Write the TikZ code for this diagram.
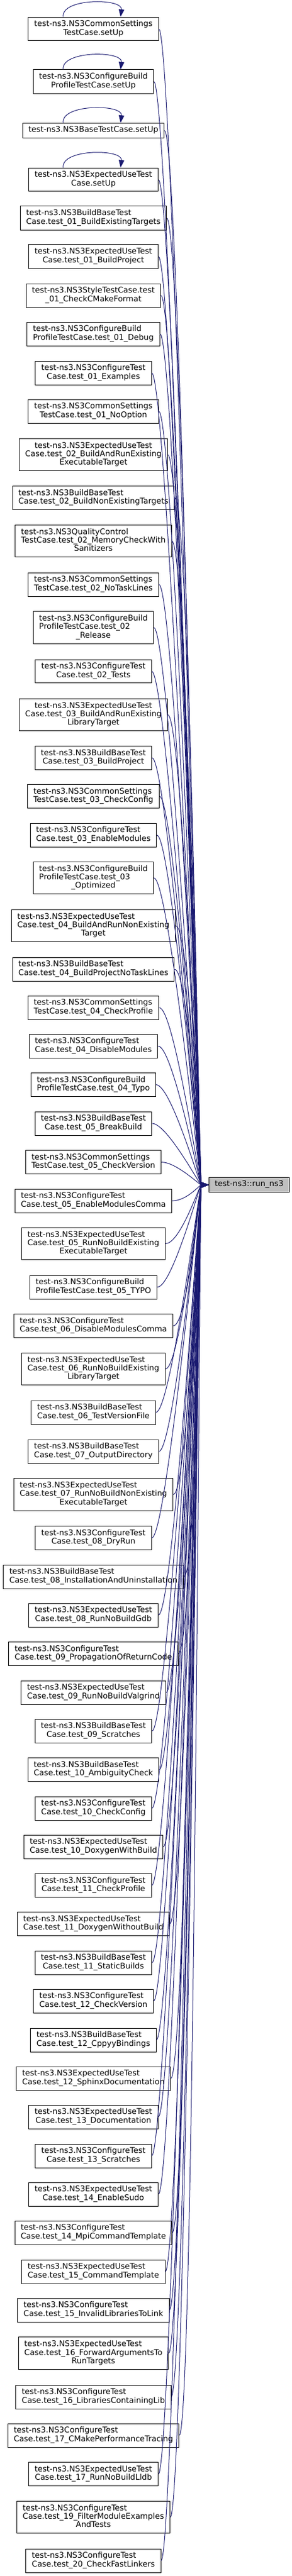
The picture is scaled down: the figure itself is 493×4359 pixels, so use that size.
\documentclass[tikz,border=0pt]{standalone}
\usepackage{fontspec}
\setmainfont{DejaVu Sans}
\usetikzlibrary{arrows.meta}
\definecolor{midnightblue}{RGB}{25,25,112}
\newcommand{\oneline}[1]{\begin{tabular}{@{}c@{}}#1\end{tabular}}
\newcommand{\twoline}[2]{\begin{tabular}{@{}l@{}}#1\\\multicolumn{1}{@{}c@{}}{#2}\end{tabular}}
\newcommand{\threeline}[3]{\begin{tabular}{@{}l@{}}#1\\#2\\\multicolumn{1}{@{}c@{}}{#3}\end{tabular}}
\newcommand{\threecentre}[3]{\begin{tabular}{@{}c@{}}#1\\#2\\#3\end{tabular}}

\begin{document}
\begin{tikzpicture}[x=0.75pt, y=-0.75pt,
caller/.style={draw=black, fill=white, line width=0.75pt, inner xsep=7.5pt, inner ysep=4.2pt, font=\fontsize{10}{10.7}\selectfont},
target/.style={caller, fill=black!25},
call/.style={draw=midnightblue, line width=0.75pt, -{Triangle[length=9.5pt, width=7pt]}}]
\useasboundingbox (0,0) rectangle (493,4359);
% the callers, one column
\node[caller] (c1) at (158,49) {\twoline{test-ns3.NS3CommonSettings}{TestCase.setUp}};
\node[caller] (c2) at (158,138) {\twoline{test-ns3.NS3ConfigureBuild}{ProfileTestCase.setUp}};
\node[caller] (c3) at (158,221) {\oneline{test-ns3.NS3BaseTestCase.setUp}};
\node[caller] (c4) at (158,304) {\twoline{test-ns3.NS3ExpectedUseTest}{Case.setUp}};
\node[caller] (c5) at (158,369) {\twoline{test-ns3.NS3BuildBaseTest}{Case.test\_01\_BuildExistingTargets}};
\node[caller] (c6) at (158,434) {\twoline{test-ns3.NS3ExpectedUseTest}{Case.test\_01\_BuildProject}};
\node[caller] (c7) at (158,500) {\twoline{test-ns3.NS3StyleTestCase.test}{\_01\_CheckCMakeFormat}};
\node[caller] (c8) at (158,565) {\twoline{test-ns3.NS3ConfigureBuild}{ProfileTestCase.test\_01\_Debug}};
\node[caller] (c9) at (158,631) {\twoline{test-ns3.NS3ConfigureTest}{Case.test\_01\_Examples}};
\node[caller] (c10) at (158,696) {\twoline{test-ns3.NS3CommonSettings}{TestCase.test\_01\_NoOption}};
\node[caller] (c11) at (158,769.5) {\threecentre{test-ns3.NS3ExpectedUseTest}{Case.test\_02\_BuildAndRunExisting}{ExecutableTarget}};
\node[caller] (c12) at (158,842.5) {\twoline{test-ns3.NS3BuildBaseTest}{Case.test\_02\_BuildNonExistingTargets}};
\node[caller] (c13) at (158,915.5) {\threeline{test-ns3.NS3QualityControl}{TestCase.test\_02\_MemoryCheckWith}{Sanitizers}};
\node[caller] (c14) at (158,989) {\twoline{test-ns3.NS3CommonSettings}{TestCase.test\_02\_NoTaskLines}};
\node[caller] (c15) at (158,1062) {\threeline{test-ns3.NS3ConfigureBuild}{ProfileTestCase.test\_02}{\_Release}};
\node[caller] (c16) at (158,1136) {\twoline{test-ns3.NS3ConfigureTest}{Case.test\_02\_Tests}};
\node[caller] (c17) at (158,1209.5) {\threecentre{test-ns3.NS3ExpectedUseTest}{Case.test\_03\_BuildAndRunExisting}{LibraryTarget}};
\node[caller] (c18) at (158,1282.5) {\twoline{test-ns3.NS3BuildBaseTest}{Case.test\_03\_BuildProject}};
\node[caller] (c19) at (158,1347.5) {\twoline{test-ns3.NS3CommonSettings}{TestCase.test\_03\_CheckConfig}};
\node[caller] (c20) at (158,1413) {\twoline{test-ns3.NS3ConfigureTest}{Case.test\_03\_EnableModules}};
\node[caller] (c21) at (158,1485.5) {\threeline{test-ns3.NS3ConfigureBuild}{ProfileTestCase.test\_03}{\_Optimized}};
\node[caller] (c22) at (158,1566.5) {\threeline{test-ns3.NS3ExpectedUseTest}{Case.test\_04\_BuildAndRunNonExisting}{Target}};
\node[caller] (c23) at (158,1640) {\twoline{test-ns3.NS3BuildBaseTest}{Case.test\_04\_BuildProjectNoTaskLines}};
\node[caller] (c24) at (158,1705) {\twoline{test-ns3.NS3CommonSettings}{TestCase.test\_04\_CheckProfile}};
\node[caller] (c25) at (158,1770) {\twoline{test-ns3.NS3ConfigureTest}{Case.test\_04\_DisableModules}};
\node[caller] (c26) at (158,1835.5) {\twoline{test-ns3.NS3ConfigureBuild}{ProfileTestCase.test\_04\_Typo}};
\node[caller] (c27) at (158,1901) {\twoline{test-ns3.NS3BuildBaseTest}{Case.test\_05\_BreakBuild}};
\node[caller] (c28) at (158,1966.5) {\twoline{test-ns3.NS3CommonSettings}{TestCase.test\_05\_CheckVersion}};
\node[caller] (c29) at (158,2032) {\twoline{test-ns3.NS3ConfigureTest}{Case.test\_05\_EnableModulesComma}};
\node[caller] (c30) at (158,2104.5) {\threeline{test-ns3.NS3ExpectedUseTest}{Case.test\_05\_RunNoBuildExisting}{ExecutableTarget}};
\node[caller] (c31) at (158,2178) {\twoline{test-ns3.NS3ConfigureBuild}{ProfileTestCase.test\_05\_TYPO}};
\node[caller] (c32) at (158,2243.5) {\twoline{test-ns3.NS3ConfigureTest}{Case.test\_06\_DisableModulesComma}};
\node[caller] (c33) at (158,2316.5) {\threeline{test-ns3.NS3ExpectedUseTest}{Case.test\_06\_RunNoBuildExisting}{LibraryTarget}};
\node[caller] (c34) at (158,2390) {\twoline{test-ns3.NS3BuildBaseTest}{Case.test\_06\_TestVersionFile}};
\node[caller] (c35) at (158,2456) {\twoline{test-ns3.NS3BuildBaseTest}{Case.test\_07\_OutputDirectory}};
\node[caller] (c36) at (158,2529) {\threeline{test-ns3.NS3ExpectedUseTest}{Case.test\_07\_RunNoBuildNonExisting}{ExecutableTarget}};
\node[caller] (c37) at (158,2602.5) {\twoline{test-ns3.NS3ConfigureTest}{Case.test\_08\_DryRun}};
\node[caller] (c38) at (158,2668) {\twoline{test-ns3.NS3BuildBaseTest}{Case.test\_08\_InstallationAndUninstallation}};
\node[caller] (c39) at (158,2733) {\twoline{test-ns3.NS3ExpectedUseTest}{Case.test\_08\_RunNoBuildGdb}};
\node[caller] (c40) at (158,2798.5) {\twoline{test-ns3.NS3ConfigureTest}{Case.test\_09\_PropagationOfReturnCode}};
\node[caller] (c41) at (158,2864) {\twoline{test-ns3.NS3ExpectedUseTest}{Case.test\_09\_RunNoBuildValgrind}};
\node[caller] (c42) at (158,2929) {\twoline{test-ns3.NS3BuildBaseTest}{Case.test\_09\_Scratches}};
\node[caller] (c43) at (158,2994.5) {\twoline{test-ns3.NS3BuildBaseTest}{Case.test\_10\_AmbiguityCheck}};
\node[caller] (c44) at (158,3060) {\twoline{test-ns3.NS3ConfigureTest}{Case.test\_10\_CheckConfig}};
\node[caller] (c45) at (158,3125) {\twoline{test-ns3.NS3ExpectedUseTest}{Case.test\_10\_DoxygenWithBuild}};
\node[caller] (c46) at (158,3190.5) {\twoline{test-ns3.NS3ConfigureTest}{Case.test\_11\_CheckProfile}};
\node[caller] (c47) at (158,3255.5) {\twoline{test-ns3.NS3ExpectedUseTest}{Case.test\_11\_DoxygenWithoutBuild}};
\node[caller] (c48) at (158,3321) {\twoline{test-ns3.NS3BuildBaseTest}{Case.test\_11\_StaticBuilds}};
\node[caller] (c49) at (158,3386) {\twoline{test-ns3.NS3ConfigureTest}{Case.test\_12\_CheckVersion}};
\node[caller] (c50) at (158,3452) {\twoline{test-ns3.NS3BuildBaseTest}{Case.test\_12\_CppyyBindings}};
\node[caller] (c51) at (158,3517) {\twoline{test-ns3.NS3ExpectedUseTest}{Case.test\_12\_SphinxDocumentation}};
\node[caller] (c52) at (158,3582) {\twoline{test-ns3.NS3ExpectedUseTest}{Case.test\_13\_Documentation}};
\node[caller] (c53) at (158,3648) {\twoline{test-ns3.NS3ConfigureTest}{Case.test\_13\_Scratches}};
\node[caller] (c54) at (158,3713) {\twoline{test-ns3.NS3ExpectedUseTest}{Case.test\_14\_EnableSudo}};
\node[caller] (c55) at (158,3778) {\twoline{test-ns3.NS3ConfigureTest}{Case.test\_14\_MpiCommandTemplate}};
\node[caller] (c56) at (158,3844) {\twoline{test-ns3.NS3ExpectedUseTest}{Case.test\_15\_CommandTemplate}};
\node[caller] (c57) at (158,3909) {\twoline{test-ns3.NS3ConfigureTest}{Case.test\_15\_InvalidLibrariesToLink}};
\node[caller] (c58) at (158,3982) {\threeline{test-ns3.NS3ExpectedUseTest}{Case.test\_16\_ForwardArgumentsTo}{RunTargets}};
\node[caller] (c59) at (158,4056) {\twoline{test-ns3.NS3ConfigureTest}{Case.test\_16\_LibrariesContainingLib}};
\node[caller] (c60) at (158,4121) {\twoline{test-ns3.NS3ConfigureTest}{Case.test\_17\_CMakePerformanceTracing}};
\node[caller] (c61) at (158,4186.5) {\twoline{test-ns3.NS3ExpectedUseTest}{Case.test\_17\_RunNoBuildLldb}};
\node[caller] (c62) at (158,4259.5) {\threeline{test-ns3.NS3ConfigureTest}{Case.test\_19\_FilterModuleExamples}{AndTests}};
\node[caller] (c63) at (158,4333) {\twoline{test-ns3.NS3ConfigureTest}{Case.test\_20\_CheckFastLinkers}};
% the function itself
\node[target, anchor=east] (run) at (490,2005) {\oneline{test-ns3::run\_ns3}};
% setUp calls itself
\draw[call] (c1.north) ++(-51,0) .. controls +(-4,-32) and +(4,-32) .. +(97,0);
\draw[call] (c2.north) ++(-51,0) .. controls +(-4,-32) and +(4,-32) .. +(97,0);
\draw[call] (c3.north) ++(-51,0) .. controls +(-4,-32) and +(4,-32) .. +(97,0);
\draw[call] (c4.north) ++(-51,0) .. controls +(-4,-32) and +(4,-32) .. +(97,0);
% calls into run_ns3
\draw[call] (c1.east) .. controls +(25,0) and +(-15,0) .. (run.west);
\draw[call] (c2.east) .. controls +(25,0) and +(-15,0) .. (run.west);
\draw[call] (c3.east) .. controls +(25,0) and +(-15,0) .. (run.west);
\draw[call] (c4.east) .. controls +(25,0) and +(-15,0) .. (run.west);
\draw[call] (c5.east) .. controls +(25,0) and +(-15,0) .. (run.west);
\draw[call] (c6.east) .. controls +(25,0) and +(-15,0) .. (run.west);
\draw[call] (c7.east) .. controls +(25,0) and +(-15,0) .. (run.west);
\draw[call] (c8.east) .. controls +(25,0) and +(-15,0) .. (run.west);
\draw[call] (c9.east) .. controls +(25,0) and +(-15,0) .. (run.west);
\draw[call] (c10.east) .. controls +(25,0) and +(-15,0) .. (run.west);
\draw[call] (c11.east) .. controls +(25,0) and +(-15,0) .. (run.west);
\draw[call] (c12.east) .. controls +(25,0) and +(-15,0) .. (run.west);
\draw[call] (c13.east) .. controls +(25,0) and +(-15,0) .. (run.west);
\draw[call] (c14.east) .. controls +(25,0) and +(-15,0) .. (run.west);
\draw[call] (c15.east) .. controls +(25,0) and +(-15,0) .. (run.west);
\draw[call] (c16.east) .. controls +(25,0) and +(-15,0) .. (run.west);
\draw[call] (c17.east) .. controls +(25,0) and +(-15,0) .. (run.west);
\draw[call] (c18.east) .. controls +(25,0) and +(-15,0) .. (run.west);
\draw[call] (c19.east) .. controls +(25,0) and +(-15,0) .. (run.west);
\draw[call] (c20.east) .. controls +(25,0) and +(-15,0) .. (run.west);
\draw[call] (c21.east) .. controls +(25,0) and +(-15,0) .. (run.west);
\draw[call] (c22.east) .. controls +(25,0) and +(-15,0) .. (run.west);
\draw[call] (c23.east) .. controls +(25,0) and +(-15,0) .. (run.west);
\draw[call] (c24.east) .. controls +(25,0) and +(-15,0) .. (run.west);
\draw[call] (c25.east) .. controls +(25,0) and +(-15,0) .. (run.west);
\draw[call] (c26.east) .. controls +(25,0) and +(-15,0) .. (run.west);
\draw[call] (c27.east) .. controls +(25,0) and +(-15,0) .. (run.west);
\draw[call] (c28.east) .. controls +(25,0) and +(-15,0) .. (run.west);
\draw[call] (c29.east) .. controls +(25,0) and +(-15,0) .. (run.west);
\draw[call] (c30.east) .. controls +(25,0) and +(-15,0) .. (run.west);
\draw[call] (c31.east) .. controls +(25,0) and +(-15,0) .. (run.west);
\draw[call] (c32.east) .. controls +(25,0) and +(-15,0) .. (run.west);
\draw[call] (c33.east) .. controls +(25,0) and +(-15,0) .. (run.west);
\draw[call] (c34.east) .. controls +(25,0) and +(-15,0) .. (run.west);
\draw[call] (c35.east) .. controls +(25,0) and +(-15,0) .. (run.west);
\draw[call] (c36.east) .. controls +(25,0) and +(-15,0) .. (run.west);
\draw[call] (c37.east) .. controls +(25,0) and +(-15,0) .. (run.west);
\draw[call] (c38.east) .. controls +(25,0) and +(-15,0) .. (run.west);
\draw[call] (c39.east) .. controls +(25,0) and +(-15,0) .. (run.west);
\draw[call] (c40.east) .. controls +(25,0) and +(-15,0) .. (run.west);
\draw[call] (c41.east) .. controls +(25,0) and +(-15,0) .. (run.west);
\draw[call] (c42.east) .. controls +(25,0) and +(-15,0) .. (run.west);
\draw[call] (c43.east) .. controls +(25,0) and +(-15,0) .. (run.west);
\draw[call] (c44.east) .. controls +(25,0) and +(-15,0) .. (run.west);
\draw[call] (c45.east) .. controls +(25,0) and +(-15,0) .. (run.west);
\draw[call] (c46.east) .. controls +(25,0) and +(-15,0) .. (run.west);
\draw[call] (c47.east) .. controls +(25,0) and +(-15,0) .. (run.west);
\draw[call] (c48.east) .. controls +(25,0) and +(-15,0) .. (run.west);
\draw[call] (c49.east) .. controls +(25,0) and +(-15,0) .. (run.west);
\draw[call] (c50.east) .. controls +(25,0) and +(-15,0) .. (run.west);
\draw[call] (c51.east) .. controls +(25,0) and +(-15,0) .. (run.west);
\draw[call] (c52.east) .. controls +(25,0) and +(-15,0) .. (run.west);
\draw[call] (c53.east) .. controls +(25,0) and +(-15,0) .. (run.west);
\draw[call] (c54.east) .. controls +(25,0) and +(-15,0) .. (run.west);
\draw[call] (c55.east) .. controls +(25,0) and +(-15,0) .. (run.west);
\draw[call] (c56.east) .. controls +(25,0) and +(-15,0) .. (run.west);
\draw[call] (c57.east) .. controls +(25,0) and +(-15,0) .. (run.west);
\draw[call] (c58.east) .. controls +(25,0) and +(-15,0) .. (run.west);
\draw[call] (c59.east) .. controls +(25,0) and +(-15,0) .. (run.west);
\draw[call] (c60.east) .. controls +(25,0) and +(-15,0) .. (run.west);
\draw[call] (c61.east) .. controls +(25,0) and +(-15,0) .. (run.west);
\draw[call] (c62.east) .. controls +(25,0) and +(-15,0) .. (run.west);
\draw[call] (c63.east) .. controls +(25,0) and +(-15,0) .. (run.west);
\end{tikzpicture}
\end{document}
